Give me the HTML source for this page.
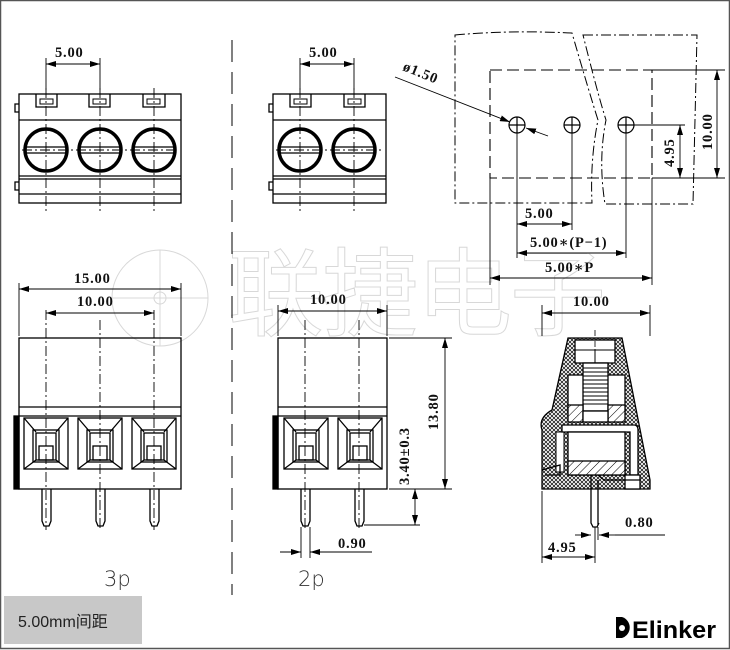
<!DOCTYPE html>
<html><head><meta charset="utf-8"><style>
html,body{margin:0;padding:0;background:#fff}
svg{display:block}
.t{font-family:"Liberation Serif","DejaVu Serif",serif;font-weight:bold;font-size:14.5px;letter-spacing:0.8px;fill:#111}
</style></head><body>
<svg width="730" height="650" viewBox="0 0 730 650" xmlns="http://www.w3.org/2000/svg">
<defs>
<marker id="a" viewBox="0 0 10 6" refX="10" refY="3" markerWidth="10" markerHeight="6" orient="auto-start-reverse" markerUnits="userSpaceOnUse"><path d="M0,0L10,3L0,6z" fill="#000"/></marker>
<pattern id="x" width="4" height="4" patternUnits="userSpaceOnUse"><rect width="4" height="4" fill="#fff"/><path d="M0,0L4,4M4,0L0,4" stroke="#000" stroke-width="0.7"/></pattern>
<pattern id="h" width="6" height="6" patternUnits="userSpaceOnUse" patternTransform="rotate(45)"><rect width="6" height="6" fill="#fff"/><line x1="0" y1="0" x2="0" y2="6" stroke="#000" stroke-width="1"/></pattern>
</defs>
<rect x="0.5" y="0.5" width="729" height="648" fill="#fff" stroke="#555" stroke-width="1.5"/>

<!-- watermark -->
<g fill="none" stroke="#d8d8d8" stroke-width="1">
<circle cx="160" cy="298" r="48"/><path d="M160,250V346M112,298H208"/><circle cx="160" cy="298" r="6"/>
<text x="228" y="328" font-family="Noto Sans CJK SC,sans-serif" font-size="96" letter-spacing="-2">联捷电子</text>
</g>

<!-- divider -->
<line x1="232" y1="40" x2="232" y2="595" stroke="#000" stroke-width="1" stroke-dasharray="22,10"/>

<g stroke="#000" fill="none" stroke-width="1.3">
<!-- 3p top -->
<rect x="19" y="94" width="162" height="109"/>
<line x1="19" y1="120" x2="181" y2="120"/><line x1="19" y1="176" x2="181" y2="176"/><line x1="19" y1="179" x2="181" y2="179"/><line x1="19" y1="194" x2="181" y2="194"/>
<path d="M36,94V107H57V94M89,94V107H110V94M143,94V107H165V94"/>
<path d="M40,99H53V104H40zM93,99H106V104H93zM147,99H160V104H147z" stroke-width="1"/>
<path d="M19,104H15V112H19M19,182H15V190H19"/>
<g stroke-width="3.5"><circle cx="46" cy="150" r="21"/><circle cx="100" cy="150" r="21"/><circle cx="154" cy="150" r="21"/></g>
<path d="M27,147H65M27,153H65M81,147H119M81,153H119M135,147H173M135,153H173" stroke-width="1.2"/>
<!-- 2p top -->
<rect x="273" y="94" width="113" height="109"/>
<line x1="273" y1="120" x2="386" y2="120"/><line x1="273" y1="176" x2="386" y2="176"/><line x1="273" y1="179" x2="386" y2="179"/><line x1="273" y1="194" x2="386" y2="194"/>
<path d="M290,94V107H311V94M344,94V107H365V94"/>
<path d="M294,99H307V104H294zM348,99H361V104H348z" stroke-width="1"/>
<path d="M273,104H269V112H273M273,182H269V190H273"/>
<g stroke-width="3.5"><circle cx="300" cy="150" r="21"/><circle cx="354" cy="150" r="21"/></g>
<path d="M281,147H319M281,153H319M335,147H373M335,153H373" stroke-width="1.2"/>

<!-- 3p front -->
<rect x="19" y="338" width="162" height="151"/>
<line x1="19" y1="407" x2="181" y2="407"/><line x1="19" y1="416" x2="181" y2="416"/>
<rect x="14" y="416" width="5" height="73" fill="#000"/>
<g id="sq">
<rect x="24" y="418" width="44" height="51"/><path d="M24,418L36,432M68,418L56,432M24,469L36,460M68,469L56,460"/>
<rect x="33" y="430" width="26" height="32"/><rect x="36" y="433" width="20" height="27"/><rect x="39" y="446" width="14" height="14"/>
</g>
<use href="#sq" x="54"/><use href="#sq" x="108"/>
<path d="M42,489V521L44,526H49L51,521V489M96,489V521L98,526H103L105,521V489M150,489V521L152,526H157L159,521V489"/>
<!-- 2p front -->
<rect x="278" y="338" width="109" height="151"/>
<line x1="278" y1="407" x2="387" y2="407"/><line x1="278" y1="416" x2="387" y2="416"/>
<rect x="273" y="416" width="5" height="73" fill="#000"/>
<use href="#sq" x="260"/><use href="#sq" x="314"/>
<path d="M301,489V521L303,526H308L310,521V489M355,489V521L357,526H362L364,521V489"/>

<!-- side view -->
<path d="M568,338H622L650,480V489H542V430Q538,418 552,410L568,338z" fill="url(#x)"/>
<rect x="575" y="340" width="40" height="23" fill="#fff"/>
<path d="M575,350H615M595,350V363" stroke-width="1"/>
<rect x="568" y="375" width="57" height="38" fill="#fff"/>
<rect x="583" y="363" width="25" height="48" fill="#fff"/>
<path d="M583,368H608M583,372H608M583,376H608M583,380H608M583,384H608M583,388H608M583,392H608M583,396H608M583,400H608M583,404H608" stroke-width="1"/>
<rect x="568" y="405" width="15" height="17" fill="url(#h)"/><rect x="608" y="405" width="17" height="17" fill="url(#h)"/>
<rect x="583" y="411" width="25" height="11" fill="#fff"/>
<rect x="556" y="432" width="8" height="40" fill="#fff" stroke-width="1"/>
<path d="M562,425H634Q638,425 638,430V475H630V432H562z" fill="#fff"/>
<rect x="568" y="432" width="57" height="43" fill="#fff"/>
<rect x="568" y="461" width="57" height="14" fill="url(#h)"/>
<path d="M542,470L560,465V475H545"/>
<rect x="625" y="475" width="15" height="14" fill="#fff"/>
<path d="M598,475L604,480H640M598,480V525M591,475V523L593,527H597L599,523"/>
<line x1="595" y1="330" x2="595" y2="355" stroke-dasharray="6,2,1,2" stroke-width="0.8"/>

<!-- PCB right top -->
<path d="M455,35Q510,30 572,33Q590,95 598,120Q590,160 592,203H455Z" stroke-dasharray="10,3,2,3" stroke-width="1"/>
<path d="M583,35H697L693,204H605Q598,160 606,120Q598,95 583,35Z" stroke-dasharray="10,3,2,3" stroke-width="1"/>
<rect x="490" y="70" width="162" height="108" stroke-dasharray="12,5" stroke-width="1.1"/>
<g stroke-width="1.2"><circle cx="517" cy="125" r="8"/><circle cx="572" cy="125" r="8"/><circle cx="626" cy="125" r="8"/>
<path d="M509,125H525M517,117V133M564,125H580M572,117V133M618,125H634M626,117V133"/></g>
</g>

<!-- centerlines -->
<g stroke="#000" stroke-width="0.9" stroke-dasharray="10,3,2,3" fill="none">
<path d="M46,88V214M100,88V214M154,88V214M300,88V214M354,88V214"/>
<path d="M22,150H178M276,150H383"/>
<path d="M46,310V530M100,320V530M154,310V530M305,320V530M359,320V530"/>
</g>

<!-- dimensions -->
<g stroke="#000" stroke-width="0.9" fill="none">
<path d="M46,58V90M100,58V90M300,58V90M354,58V90"/>
<line x1="46" y1="64" x2="100" y2="64" marker-start="url(#a)" marker-end="url(#a)"/>
<line x1="300" y1="64" x2="354" y2="64" marker-start="url(#a)" marker-end="url(#a)"/>
<path d="M19,283V336M181,283V336"/>
<line x1="19" y1="289" x2="181" y2="289" marker-start="url(#a)" marker-end="url(#a)"/>
<line x1="46" y1="313" x2="154" y2="313" marker-start="url(#a)" marker-end="url(#a)"/>
<path d="M278,305V336M387,305V336"/>
<line x1="278" y1="311" x2="387" y2="311" marker-start="url(#a)" marker-end="url(#a)"/>
<path d="M389,338H452M389,489H452M364,525H420"/>
<line x1="445" y1="338" x2="445" y2="489" marker-start="url(#a)" marker-end="url(#a)"/>
<line x1="415" y1="489" x2="415" y2="525" marker-start="url(#a)" marker-end="url(#a)"/>
<path d="M301,527V558M310,527V558"/>
<line x1="280" y1="552" x2="301" y2="552" marker-end="url(#a)"/><line x1="330" y1="552" x2="310" y2="552" marker-end="url(#a)"/><line x1="330" y1="552" x2="372" y2="552"/>
<path d="M542,305V336M650,305V336"/>
<line x1="542" y1="313" x2="650" y2="313" marker-start="url(#a)" marker-end="url(#a)"/>
<path d="M542,491V563M595,527V563M598,527V540"/>
<line x1="542" y1="557" x2="595" y2="557" marker-start="url(#a)" marker-end="url(#a)"/>
<line x1="575" y1="535" x2="591" y2="535" marker-end="url(#a)"/><line x1="615" y1="535" x2="599" y2="535" marker-end="url(#a)"/><line x1="615" y1="535" x2="665" y2="535"/>
<!-- right top dims -->
<path d="M652,70H725M652,178H725M634,125H685"/>
<line x1="717" y1="70" x2="717" y2="178" marker-start="url(#a)" marker-end="url(#a)"/>
<line x1="680" y1="125" x2="680" y2="178" marker-start="url(#a)" marker-end="url(#a)"/>
<path d="M517,133V258M572,133V230M626,133V258M490,178V285M652,178V285"/>
<line x1="517" y1="224" x2="572" y2="224" marker-start="url(#a)" marker-end="url(#a)"/>
<line x1="517" y1="253" x2="626" y2="253" marker-start="url(#a)" marker-end="url(#a)"/>
<line x1="490" y1="278" x2="652" y2="278" marker-start="url(#a)" marker-end="url(#a)"/>
<line x1="395" y1="77" x2="510" y2="122" marker-end="url(#a)"/>
<line x1="548" y1="136" x2="526" y2="128" marker-end="url(#a)"/>
</g>

<g class="t">
<text x="55" y="57">5.00</text>
<text x="309" y="57">5.00</text>
<text x="74" y="283">15.00</text>
<text x="77" y="306">10.00</text>
<text x="310" y="304">10.00</text>
<text x="573" y="306">10.00</text>
<text x="338" y="548">0.90</text>
<text x="625" y="527">0.80</text>
<text x="548" y="552">4.95</text>
<text x="525" y="218">5.00</text>
<text x="530" y="247">5.00∗(P−1)</text>
<text x="545" y="272">5.00∗P</text>
<text transform="translate(402,70) rotate(22)">ø1.50</text>
<text transform="translate(712,150) rotate(-90)">10.00</text>
<text transform="translate(674,167) rotate(-90)">4.95</text>
<text transform="translate(438,430) rotate(-90)">13.80</text>
<text transform="translate(409,485) rotate(-90)">3.40±0.3</text>
</g>

<text x="104" y="586" font-family="DejaVu Sans,sans-serif" font-size="21" font-weight="200" fill="#333">3p</text>
<text x="298" y="586" font-family="DejaVu Sans,sans-serif" font-size="21" font-weight="200" fill="#333">2p</text>
<rect x="4" y="596" width="138" height="48" fill="#c8c8c8"/>
<text x="18" y="627" font-family="Liberation Sans,Noto Sans CJK SC,sans-serif" font-size="16" fill="#222">5.00mm间距</text>
<g>
<path d="M616,617H622A11,11 0 0 1 622,638H616Z" fill="#000"/><circle cx="622" cy="628" r="3" fill="#fff"/>
<text x="632" y="638" font-family="Liberation Sans,sans-serif" font-weight="bold" font-size="24" fill="#000" textLength="84" lengthAdjust="spacingAndGlyphs">Elinker</text>
</g>
</svg>
</body></html>
